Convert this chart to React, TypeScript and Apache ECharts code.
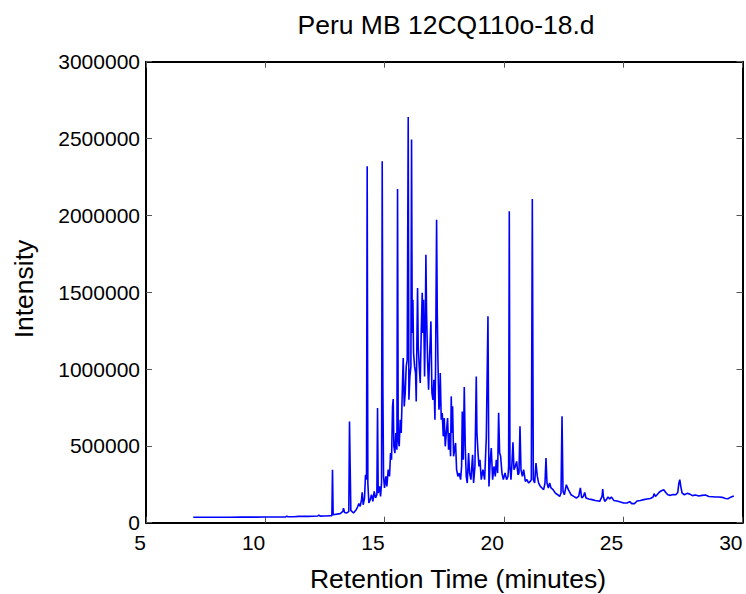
import React, { useEffect, useRef } from "react";
import * as echarts from "echarts";

// Chromatogram: [retention time (min), intensity]
const earlyBaseline: [number, number][] = [
  [6.98, 35000], [7.5, 35000], [8.0, 35500], [8.5, 35500], [9.0, 36000], [9.5, 36500],
  [10.0, 37000], [10.5, 37500], [10.85, 38000], [10.9, 43000], [10.95, 38500], [11.2, 39000],
  [11.4, 41000], [11.6, 42000], [11.8, 41000], [12.0, 42000], [12.2, 44000], [12.25, 49000],
  [12.3, 43000], [12.5, 44000], [12.72, 45000], [12.79, 45000],
];

const firstPeaks: [number, number][] = [
  [12.816, 345000], [12.844, 52000], [13.138, 59000], [13.25, 74000], [13.278, 95000],
  [13.32, 67000], [13.418, 63000], [13.5, 74000], [13.529, 659000], [13.557, 366000],
  [13.585, 80000], [13.697, 63000], [13.809, 85000], [13.865, 102000], [13.921, 124000],
  [13.977, 106000], [14.033, 150000], [14.061, 197000], [14.103, 117000], [14.159, 161000],
  [14.2, 312000], [14.242, 280000], [14.27, 2319000], [14.298, 258000], [14.34, 128000],
];

const mainCluster: [number, number][] = [
  [14.396, 150000], [14.452, 182000], [14.508, 139000], [14.564, 204000], [14.62, 161000],
  [14.676, 182000], [14.704, 746000], [14.732, 193000], [14.788, 236000], [14.83, 171000],
  [14.872, 258000], [14.9, 2352000], [14.928, 876000], [14.956, 301000], [14.997, 226000],
  [15.053, 301000], [15.095, 236000], [15.151, 345000], [15.207, 301000], [15.249, 453000],
  [15.291, 410000], [15.333, 757000], [15.361, 805000], [15.389, 497000], [15.431, 453000],
  [15.473, 584000], [15.515, 475000], [15.543, 2172000], [15.571, 540000], [15.613, 497000],
  [15.655, 670000], [15.697, 584000], [15.739, 844000], [15.78, 1072000], [15.822, 757000],
  [15.864, 844000], [15.906, 1017000], [15.948, 1061000], [15.99, 2640000], [16.018, 800000],
  [16.06, 952000], [16.102, 1017000], [16.13, 2493000], [16.158, 1234000], [16.186, 1451000],
  [16.214, 1104000], [16.256, 1017000], [16.298, 974000], [16.326, 789000], [16.354, 1191000],
  [16.382, 1527000], [16.41, 1147000], [16.452, 1017000], [16.493, 909000], [16.535, 1234000],
  [16.577, 1497000], [16.605, 1234000], [16.633, 1451000], [16.675, 952000], [16.703, 1234000],
  [16.731, 1744000], [16.759, 1365000], [16.801, 1061000], [16.843, 866000], [16.885, 1083000],
  [16.913, 1191000], [16.941, 1310000], [16.983, 844000], [17.025, 800000], [17.067, 930000],
  [17.109, 670000], [17.137, 1017000], [17.179, 1972000], [17.207, 1367000], [17.235, 1061000],
  [17.277, 735000], [17.318, 800000],
];

const middleRegion: [number, number][] = [
  [17.332, 974000], [17.374, 670000], [17.416, 714000], [17.458, 562000], [17.5, 681000],
  [17.542, 497000], [17.598, 605000], [17.64, 681000], [17.682, 475000], [17.723, 584000],
  [17.765, 432000], [17.793, 822000], [17.821, 584000], [17.849, 757000], [17.891, 432000],
  [17.933, 475000], [17.975, 519000], [18.017, 345000], [18.073, 301000], [18.129, 323000],
  [18.185, 280000], [18.227, 366000], [18.255, 724000], [18.297, 410000], [18.339, 883000],
  [18.38, 497000], [18.422, 301000], [18.464, 258000], [18.52, 453000], [18.562, 323000],
  [18.618, 280000], [18.688, 442000], [18.73, 258000], [18.786, 366000], [18.842, 952000],
  [18.87, 584000], [18.912, 464000], [18.954, 366000], [18.996, 410000], [19.052, 280000],
  [19.122, 345000], [19.192, 280000], [19.262, 551000], [19.332, 1343000], [19.373, 236000],
  [19.429, 410000], [19.471, 486000], [19.527, 280000], [19.583, 366000], [19.639, 301000],
  [19.681, 410000], [19.737, 323000], [19.779, 716000], [19.821, 453000], [19.863, 432000],
  [19.919, 323000], [19.975, 280000], [20.045, 323000], [20.114, 280000], [20.17, 301000],
  [20.198, 366000], [20.226, 2026000], [20.254, 366000], [20.296, 280000], [20.338, 388000],
  [20.38, 523000], [20.422, 345000], [20.478, 366000], [20.534, 399000], [20.59, 312000],
  [20.632, 323000], [20.674, 627000], [20.716, 345000], [20.772, 301000], [20.828, 345000],
  [20.898, 269000], [20.967, 280000],
];

const tailRegion: [number, number][] = [
  [21.037, 258000], [21.107, 269000], [21.149, 280000], [21.191, 2107000], [21.233, 280000],
  [21.289, 258000], [21.345, 388000], [21.401, 301000], [21.457, 258000], [21.527, 236000],
  [21.596, 226000], [21.666, 215000], [21.722, 258000], [21.764, 421000], [21.806, 258000],
  [21.862, 226000], [21.918, 258000], [21.974, 226000], [22.058, 215000], [22.156, 193000],
  [22.254, 182000], [22.338, 171000], [22.394, 193000], [22.436, 692000], [22.477, 204000],
  [22.533, 182000], [22.617, 247000], [22.701, 215000], [22.813, 182000], [22.925, 171000],
  [23.036, 161000], [23.134, 171000], [23.204, 226000], [23.26, 161000], [23.33, 171000],
  [23.386, 197000], [23.442, 161000], [23.554, 154000], [23.694, 150000], [23.834, 145000],
  [24.016, 139000],
];

const lateRegion: [number, number][] = [
  [24.113, 171000], [24.141, 219000], [24.169, 171000], [24.225, 139000], [24.295, 150000],
  [24.365, 167000], [24.435, 154000], [24.505, 167000], [24.603, 145000], [24.743, 141000],
  [24.882, 135000], [25.022, 128000], [25.162, 128000], [25.274, 137000], [25.358, 124000],
  [25.47, 124000], [25.582, 141000], [25.721, 145000], [25.861, 150000], [26.001, 154000],
  [26.141, 158000], [26.253, 167000], [26.295, 189000], [26.351, 171000], [26.42, 182000],
  [26.518, 200000], [26.602, 208000], [26.7, 215000], [26.784, 197000], [26.868, 182000],
  [26.98, 178000], [27.092, 184000], [27.204, 182000], [27.288, 197000], [27.33, 254000],
  [27.371, 280000], [27.413, 237000], [27.469, 193000], [27.567, 182000], [27.679, 191000],
  [27.791, 186000], [27.903, 176000], [28.028, 180000], [28.168, 174000], [28.308, 178000],
  [28.448, 180000], [28.588, 171000], [28.727, 169000], [28.867, 167000], [29.007, 167000],
  [29.147, 165000], [29.287, 158000], [29.385, 156000], [29.497, 165000], [29.637, 174000],
];

const xTicks = { min: 5, max: 30, interval: 5 };
const yTicks = { min: 0, max: 3000000, interval: 500000 };
const titleText = "Peru MB 12CQ110o-18.d";
const xName = "Retention Time (minutes)";
const yName = "Intensity";

const FONT = "'Liberation Sans', Arial, Helvetica, sans-serif";

export default function App() {
  const ref = useRef<HTMLDivElement>(null);
  useEffect(() => {
    if (!ref.current) return;
    const chart = echarts.init(ref.current, undefined, { renderer: "svg" });
    const data = [
      ...earlyBaseline,
      ...firstPeaks,
      ...mainCluster,
      ...middleRegion,
      ...tailRegion,
      ...lateRegion,
    ];
    const axisLine = { show: true, onZero: false, lineStyle: { color: "#000", width: 2 } };
    const axisTick = { show: true, inside: true, length: 6, lineStyle: { color: "#555", width: 1 } };
    chart.setOption({
      animation: false,
      backgroundColor: "#fff",
      grid: { left: 146, right: 3.5, top: 61.7, bottom: 71.3 },
      xAxis: [
        {
          type: "value",
          ...xTicks,
          axisLine,
          axisTick,
          splitLine: { show: false },
          axisLabel: {
            color: "#000",
            fontSize: 21,
            fontFamily: FONT,
            margin: 9,
            align: "right",
          },
        },
        {
          type: "value",
          position: "top",
          ...xTicks,
          axisLine,
          axisTick,
          splitLine: { show: false },
          axisLabel: { show: false },
        },
      ],
      yAxis: [
        {
          type: "value",
          ...yTicks,
          axisLine,
          axisTick,
          splitLine: { show: false },
          axisLabel: {
            color: "#000",
            fontSize: 21,
            fontFamily: FONT,
            margin: 6,
            formatter: (v: number) => String(v),
          },
        },
        {
          type: "value",
          position: "right",
          ...yTicks,
          axisLine,
          axisTick,
          splitLine: { show: false },
          axisLabel: { show: false },
        },
      ],
      graphic: [
        {
          type: "text",
          x: 446,
          y: 25,
          style: {
            text: titleText,
            fill: "#000",
            font: `26.5px ${FONT}`,
            align: "center",
            verticalAlign: "middle",
          },
        },
        {
          type: "text",
          x: 458,
          y: 578.5,
          style: {
            text: xName,
            fill: "#000",
            font: `26.5px ${FONT}`,
            align: "center",
            verticalAlign: "middle",
          },
        },
        {
          type: "text",
          x: 24,
          y: 289,
          rotation: Math.PI / 2,
          style: {
            text: yName,
            fill: "#000",
            font: `26.5px ${FONT}`,
            align: "center",
            verticalAlign: "middle",
          },
        },
      ],
      series: [
        {
          type: "line",
          xAxisIndex: 0,
          yAxisIndex: 0,
          data,
          showSymbol: false,
          symbol: "none",
          lineStyle: { color: "#0000ff", width: 1.6 },
          emphasis: { disabled: true },
        },
      ],
    });
    return () => chart.dispose();
  }, []);
  return (
    <div
      ref={ref}
      style={{ position: "fixed", left: 0, top: 0, width: 746, height: 594, background: "#fff" }}
    />
  );
}
